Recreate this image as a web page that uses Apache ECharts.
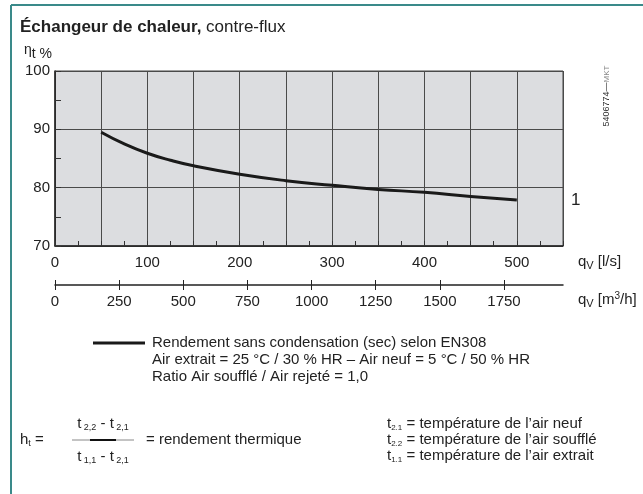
<!DOCTYPE html>
<html>
<head>
<meta charset="utf-8">
<script src="https://cdn.jsdelivr.net/npm/echarts@6/dist/echarts.min.js"></script>
<style>
html,body{margin:0;padding:0;background:#fff;}
#c{width:643px;height:494px;}
</style>
</head>
<body>
<div id="c"></div>
<script>
// ---- data ----
var flowLs = [50, 75, 100, 125, 150, 200, 250, 300, 350, 400, 450, 500];
var efficiency = [89.5, 87.5, 85.9, 84.7, 83.75, 82.3, 81.2, 80.4, 79.7, 79.2, 78.5, 77.9];
var xLabelsLs = [0, 100, 200, 300, 400, 500];
var xLabelsM3h = [0, 250, 500, 750, 1000, 1250, 1500, 1750];
var yTicks = [70, 80, 90, 100];
var legendLines = [
  'Rendement sans condensation (sec) selon EN308',
  'Air extrait = 25 °C / 30 % HR – Air neuf = 5 °C / 50 % HR',
  'Ratio Air soufflé / Air rejeté = 1,0'
];
var definitions = [
  ['2.1', ' = température de l’air neuf'],
  ['2.2', ' = température de l’air soufflé'],
  ['1.1', ' = température de l’air extrait']
];

var FONT = '"Liberation Sans", Arial, Helvetica, sans-serif';
var TXT = '#222';
var chart = echarts.init(document.getElementById('c'), null, {renderer: 'canvas'});

var seriesData = flowLs.map(function (x, i) { return [x, efficiency[i]]; });
function plain(v) { return String(v); }

var graphics = [];
// frame lines (top + left teal)
graphics.push({type: 'line', shape: {x1: 11, y1: 5, x2: 643, y2: 5}, style: {stroke: '#3a8a8a', lineWidth: 2}});
graphics.push({type: 'line', shape: {x1: 11, y1: 5, x2: 11, y2: 494}, style: {stroke: '#3a8a8a', lineWidth: 2}});
// title
graphics.push({type: 'text', x: 20, y: 27, style: {
  text: '{b|Échangeur de chaleur,}{n| contre-flux}', verticalAlign: 'middle',
  rich: {b: {fontFamily: FONT, fontSize: 17, fontWeight: 'bold', fill: TXT},
         n: {fontFamily: FONT, fontSize: 17, fill: TXT}}
}});
// y unit
graphics.push({type: 'text', x: 24, y: 54, style: {
  text: '{e|η}{n|t %}', verticalAlign: 'middle',
  rich: {e: {fontFamily: FONT, fontSize: 14, fill: TXT, padding: [0, 0, 8, 0]},
         n: {fontFamily: FONT, fontSize: 14, fill: TXT}}
}});
// curve label
graphics.push({type: 'text', x: 571, y: 200, style: {text: '1', fontFamily: FONT, fontSize: 17, fill: TXT, verticalAlign: 'middle'}});
// code vertical
graphics.push({type: 'text', x: 607, y: 96, rotation: Math.PI / 2, style: {
  text: '{d|5406774—}{m|MKT}', align: 'center', verticalAlign: 'middle',
  rich: {d: {fontFamily: FONT, fontSize: 9, fill: '#333'}, m: {fontFamily: FONT, fontSize: 8, fill: '#888'}}
}});
// axis names
graphics.push({type: 'text', x: 578, y: 262, style: {
  text: '{n|q}{s|V}{n| [l/s]}', verticalAlign: 'middle',
  rich: {n: {fontFamily: FONT, fontSize: 15, fill: TXT}, s: {fontFamily: FONT, fontSize: 11, fill: TXT, padding: [8, 0, 0, 0]}}
}});
graphics.push({type: 'text', x: 578, y: 300, style: {
  text: '{n|q}{s|V}{n| [m}{p|3}{n|/h]}', verticalAlign: 'middle',
  rich: {n: {fontFamily: FONT, fontSize: 15, fill: TXT}, s: {fontFamily: FONT, fontSize: 11, fill: TXT, padding: [8, 0, 0, 0]},
         p: {fontFamily: FONT, fontSize: 10, fill: TXT, padding: [0, 0, 8, 0]}}
}});
// legend
graphics.push({type: 'line', shape: {x1: 93, y1: 343, x2: 145, y2: 343}, style: {stroke: '#1a1a1a', lineWidth: 3}});
legendLines.forEach(function (t, i) {
  graphics.push({type: 'text', x: 152, y: 343 + i * 17, style: {text: t, fontFamily: FONT, fontSize: 15, fill: TXT, verticalAlign: 'middle'}});
});
// formula
graphics.push({type: 'text', x: 20, y: 440, style: {
  text: '{n|h}{s|t}{n| =}', verticalAlign: 'middle',
  rich: {n: {fontFamily: FONT, fontSize: 15, fill: TXT}, s: {fontFamily: FONT, fontSize: 9, fill: TXT, padding: [8, 0, 0, 0]}}
}});
graphics.push({type: 'text', x: 103, y: 424, style: {
  text: '{n|t}{s| 2,2}{n| - t}{s| 2,1}', align: 'center', verticalAlign: 'middle',
  rich: {n: {fontFamily: FONT, fontSize: 15, fill: TXT}, s: {fontFamily: FONT, fontSize: 9, fill: TXT, padding: [8, 0, 0, 0]}}
}});
graphics.push({type: 'line', shape: {x1: 72, y1: 440, x2: 134, y2: 440}, style: {stroke: '#888', lineWidth: 1}});
graphics.push({type: 'line', shape: {x1: 90, y1: 440, x2: 116, y2: 440}, style: {stroke: '#111', lineWidth: 2}});
graphics.push({type: 'text', x: 103, y: 457, style: {
  text: '{n|t}{s| 1,1}{n| - t}{s| 2,1}', align: 'center', verticalAlign: 'middle',
  rich: {n: {fontFamily: FONT, fontSize: 15, fill: TXT}, s: {fontFamily: FONT, fontSize: 9, fill: TXT, padding: [8, 0, 0, 0]}}
}});
graphics.push({type: 'text', x: 146, y: 440, style: {text: '= rendement thermique', fontFamily: FONT, fontSize: 15, fill: TXT, verticalAlign: 'middle'}});
definitions.forEach(function (d, i) {
  graphics.push({type: 'text', x: 387, y: 424 + i * 16, style: {
    text: '{n|t}{s|' + d[0] + '}{n|' + d[1] + '}', verticalAlign: 'middle',
    rich: {n: {fontFamily: FONT, fontSize: 15, fill: TXT}, s: {fontFamily: FONT, fontSize: 8, fill: TXT, padding: [8, 0, 0, 0]}}
  }});
});

var option = {
  animation: false,
  backgroundColor: '#fff',
  textStyle: {fontFamily: FONT},
  grid: [
    {left: 55, top: 71, width: 508, height: 175, show: true, backgroundColor: '#dcdde0', borderColor: '#444', borderWidth: 1},
    {left: 55, top: 285, width: 508, height: 0}
  ],
  xAxis: [
    {type: 'value', gridIndex: 0, min: 0, max: 550, interval: 50, position: 'bottom',
     axisLine: {show: true, lineStyle: {color: '#222', width: 1.5}},
     axisTick: {show: false},
     axisLabel: {customValues: xLabelsLs, formatter: plain, fontSize: 15, color: TXT, margin: 9, fontFamily: FONT},
     splitLine: {show: true, lineStyle: {color: '#4a4a4a', width: 1}}},
    {type: 'value', gridIndex: 0, min: 0, max: 550, interval: 25, position: 'bottom',
     axisLine: {show: false}, axisTick: {show: true, inside: true, length: 5, lineStyle: {color: '#333'}},
     axisLabel: {show: false}, splitLine: {show: false}},
    {type: 'value', gridIndex: 1, min: 0, max: 550 * 3.6, position: 'bottom',
     axisLine: {show: true, lineStyle: {color: '#222', width: 1.5}},
     axisTick: {show: true, customValues: xLabelsM3h, length: 5, lineStyle: {color: '#222'}},
     axisLabel: {customValues: xLabelsM3h, formatter: plain, fontSize: 15, color: TXT, margin: 9, fontFamily: FONT},
     splitLine: {show: false}},
    {type: 'value', gridIndex: 1, min: 0, max: 550 * 3.6, position: 'top',
     axisLine: {show: false},
     axisTick: {show: true, customValues: xLabelsM3h, length: 5, lineStyle: {color: '#222'}},
     axisLabel: {show: false}, splitLine: {show: false}}
  ],
  yAxis: [
    {type: 'value', gridIndex: 0, min: 70, max: 100, interval: 10, position: 'left',
     axisLine: {show: true, lineStyle: {color: '#222', width: 1.5}},
     axisTick: {show: false},
     axisLabel: {customValues: yTicks, formatter: plain, fontSize: 15, color: TXT, margin: 5, fontFamily: FONT},
     splitLine: {show: true, lineStyle: {color: '#4a4a4a', width: 1}}},
    {type: 'value', gridIndex: 0, min: 70, max: 100, interval: 5, position: 'left',
     axisLine: {show: false}, axisTick: {show: true, inside: true, length: 6, lineStyle: {color: '#333'}},
     axisLabel: {show: false}, splitLine: {show: false}},
    {type: 'value', gridIndex: 1, show: false, min: 0, max: 1}
  ],
  series: [{
    type: 'line', xAxisIndex: 0, yAxisIndex: 0, data: seriesData, smooth: true,
    showSymbol: false, lineStyle: {color: '#1a1a1a', width: 3}, z: 5
  }],
  graphic: graphics
};
chart.setOption(option);
</script>
</body>
</html>
